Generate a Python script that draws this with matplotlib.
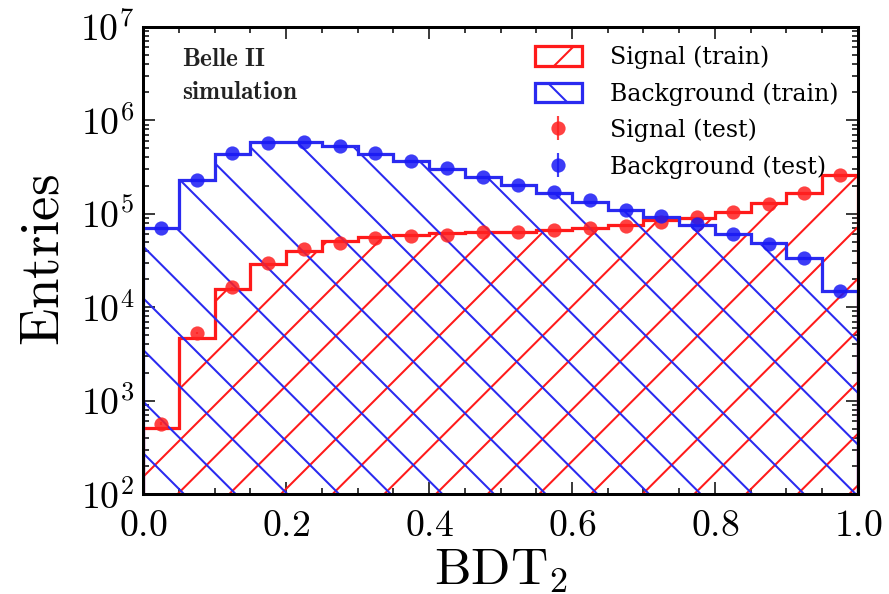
import numpy as np
import matplotlib.pyplot as plt
from matplotlib.ticker import FuncFormatter, MultipleLocator, LogLocator

# BDT2 output, 20 bins between 0 and 1
bin_edges = np.linspace(0.0, 1.0, 21)
bin_centers = 0.5 * (bin_edges[:-1] + bin_edges[1:])

sig_train = [5.1e2, 4.7e3, 1.55e4, 2.9e4, 4.0e4, 5.1e4, 5.6e4, 5.9e4, 6.2e4, 6.3e4,
             6.4e4, 6.7e4, 7.0e4, 7.6e4, 8.6e4, 9.0e4, 1.05e5, 1.3e5, 1.67e5, 2.6e5]
bkg_train = [7.0e4, 2.3e5, 4.4e5, 5.8e5, 5.9e5, 5.3e5, 4.4e5, 3.7e5, 3.0e5, 2.46e5,
             2.03e5, 1.65e5, 1.35e5, 1.1e5, 9.2e4, 7.6e4, 6.0e4, 4.9e4, 3.4e4, 1.5e4]
sig_test = [5.7e2, 5.3e3, 1.63e4, 2.95e4, 4.2e4, 4.9e4, 5.5e4, 5.8e4, 5.9e4, 6.4e4,
            6.4e4, 6.7e4, 7.0e4, 7.4e4, 8.2e4, 9.2e4, 1.05e5, 1.27e5, 1.67e5, 2.6e5]
bkg_test = [7.0e4, 2.3e5, 4.45e5, 5.7e5, 5.8e5, 5.25e5, 4.45e5, 3.7e5, 3.07e5, 2.46e5,
            2.03e5, 1.7e5, 1.4e5, 1.1e5, 9.5e4, 7.8e4, 6.1e4, 4.8e4, 3.4e4, 1.5e4]

plt.rcParams['font.family'] = 'DejaVu Serif'
plt.rcParams['mathtext.fontset'] = 'cm'
plt.rcParams['hatch.linewidth'] = 0.95

# dpi chosen so the hatch spacing comes out right
DPI = 155
fig = plt.figure(figsize=(889 / DPI, 594 / DPI), dpi=DPI)
ax = fig.add_axes([0.161, 0.168, 0.804, 0.787])
ax.set_yscale('log', nonpositive='clip')

ax.hist(bin_centers, bins=bin_edges, weights=sig_train, histtype='step',
        color='#ff1a1a', lw=1.5, hatch='/', label='Signal (train)')
ax.hist(bin_centers, bins=bin_edges, weights=bkg_train, histtype='step',
        color='#2a2af0', lw=1.5, hatch='\\', label='Background (train)')

ax.errorbar(bin_centers, sig_test, yerr=np.sqrt(sig_test), fmt='o', ms=6.6,
            color='#ff2020', alpha=0.85, mec='none', elinewidth=1.0,
            label='Signal (test)')
ax.errorbar(bin_centers, bkg_test, yerr=np.sqrt(bkg_test), fmt='o', ms=6.6,
            color='#1a1af5', alpha=0.85, mec='none', elinewidth=1.0,
            label='Background (test)')

ax.set_xlim(0, 1)
ax.set_ylim(1e2, 1e7)

ax.xaxis.set_major_locator(MultipleLocator(0.2))
ax.xaxis.set_minor_locator(MultipleLocator(0.05))
ax.yaxis.set_major_locator(LogLocator(base=10, numticks=10))
ax.yaxis.set_minor_locator(LogLocator(base=10, subs=np.arange(2, 10), numticks=10))
ax.xaxis.set_major_formatter(FuncFormatter(lambda v, p: r'$%.1f$' % v))
ax.yaxis.set_major_formatter(FuncFormatter(lambda v, p: r'$10^{%d}$' % round(np.log10(v))))

ax.tick_params(which='both', direction='in', top=True, right=True, width=0.7,
               labelsize=17.5, pad=4)
ax.tick_params(axis='x', pad=6.5)
ax.tick_params(which='major', length=5.6)
ax.tick_params(which='minor', length=2.8)
for sp in ax.spines.values():
    sp.set_linewidth(1.4)

ax.set_xlabel(r'$\mathrm{BDT}_2$', fontsize=24, labelpad=0)
ax.set_ylabel(r'$\mathrm{Entries}$', fontsize=25.5, labelpad=5)

ax.text(0.055, 0.915, r'$\mathbf{Belle\ II}$', transform=ax.transAxes,
        fontsize=11.7, color='#222222')
ax.text(0.055, 0.845, r'$\mathbf{simulation}$', transform=ax.transAxes,
        fontsize=11.7, color='#222222')

ax.legend(loc='upper right', frameon=False, fontsize=11, handlelength=2.0,
          handleheight=0.9, labelspacing=0.55, borderaxespad=0.4,
          handletextpad=1.2)

fig.savefig('out.png', dpi=DPI)
